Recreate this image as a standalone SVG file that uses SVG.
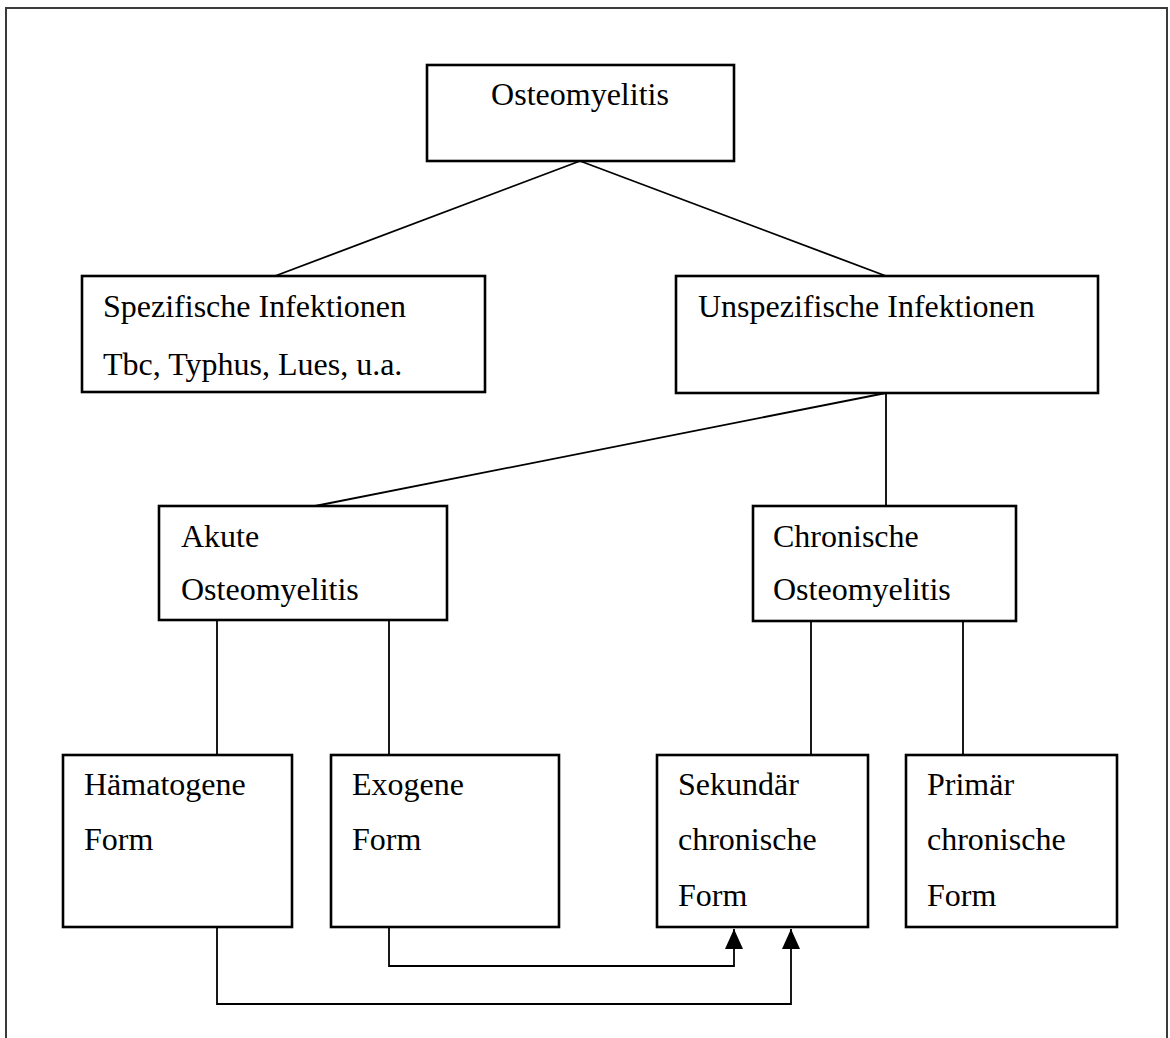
<svg xmlns="http://www.w3.org/2000/svg" width="1170" height="1038" viewBox="0 0 1170 1038">
<style>
  .box { fill: #fff; stroke: #000; stroke-width: 2.6; }
  .lbl { font-family: "Liberation Serif", "Times New Roman", serif; font-size: 32px; fill: #000; }
  .con { fill: none; stroke: #000; stroke-width: 1.8; }
</style>
<defs>
  <marker id="arr" markerUnits="userSpaceOnUse" markerWidth="20" markerHeight="18" refX="20" refY="9" orient="auto">
    <path d="M0,0 L20,9 L0,18 Z" fill="#000"/>
  </marker>
</defs>
<rect x="0" y="0" width="1170" height="1038" fill="#fff"/>
<rect x="6" y="8" width="1161" height="1045" fill="none" stroke="#3a3a3a" stroke-width="2"/>

<g id="connectors">
  <line class="con" x1="580" y1="161" x2="275" y2="276"/>
  <line class="con" x1="580" y1="161" x2="886" y2="276"/>
  <line class="con" x1="886" y1="393" x2="315" y2="506"/>
  <line class="con" x1="886" y1="393" x2="886" y2="506"/>
  <line class="con" x1="217" y1="620" x2="217" y2="755"/>
  <line class="con" x1="389" y1="620" x2="389" y2="755"/>
  <line class="con" x1="811" y1="621" x2="811" y2="755"/>
  <line class="con" x1="963" y1="621" x2="963" y2="755"/>
  <path class="con" d="M389,927 V966 H734 V929" marker-end="url(#arr)"/>
  <path class="con" d="M217,927 V1004 H791 V929" marker-end="url(#arr)"/>
</g>

<g id="osteomyelitis">
  <rect class="box" x="427" y="65" width="307" height="96"/>
  <text class="lbl" x="580" y="105" text-anchor="middle">Osteomyelitis</text>
</g>
<g id="spezifische">
  <rect class="box" x="82" y="276" width="403" height="116"/>
  <text class="lbl" x="103" y="317">Spezifische Infektionen</text>
  <text class="lbl" x="103" y="375">Tbc, Typhus, Lues, u.a.</text>
</g>
<g id="unspezifische">
  <rect class="box" x="676" y="276" width="422" height="117"/>
  <text class="lbl" x="698" y="317">Unspezifische Infektionen</text>
</g>
<g id="akute">
  <rect class="box" x="159" y="506" width="288" height="114"/>
  <text class="lbl" x="181" y="547">Akute</text>
  <text class="lbl" x="181" y="600">Osteomyelitis</text>
</g>
<g id="chronische">
  <rect class="box" x="753" y="506" width="263" height="115"/>
  <text class="lbl" x="773" y="547">Chronische</text>
  <text class="lbl" x="773" y="600">Osteomyelitis</text>
</g>
<g id="haematogene">
  <rect class="box" x="63" y="755" width="229" height="172"/>
  <text class="lbl" x="84" y="795">Hämatogene</text>
  <text class="lbl" x="84" y="850">Form</text>
</g>
<g id="exogene">
  <rect class="box" x="331" y="755" width="228" height="172"/>
  <text class="lbl" x="352" y="795">Exogene</text>
  <text class="lbl" x="352" y="850">Form</text>
</g>
<g id="sekundaer">
  <rect class="box" x="657" y="755" width="211" height="172"/>
  <text class="lbl" x="678" y="795">Sekundär</text>
  <text class="lbl" x="678" y="850">chronische</text>
  <text class="lbl" x="678" y="906">Form</text>
</g>
<g id="primaer">
  <rect class="box" x="906" y="755" width="211" height="172"/>
  <text class="lbl" x="927" y="795">Primär</text>
  <text class="lbl" x="927" y="850">chronische</text>
  <text class="lbl" x="927" y="906">Form</text>
</g>
</svg>
